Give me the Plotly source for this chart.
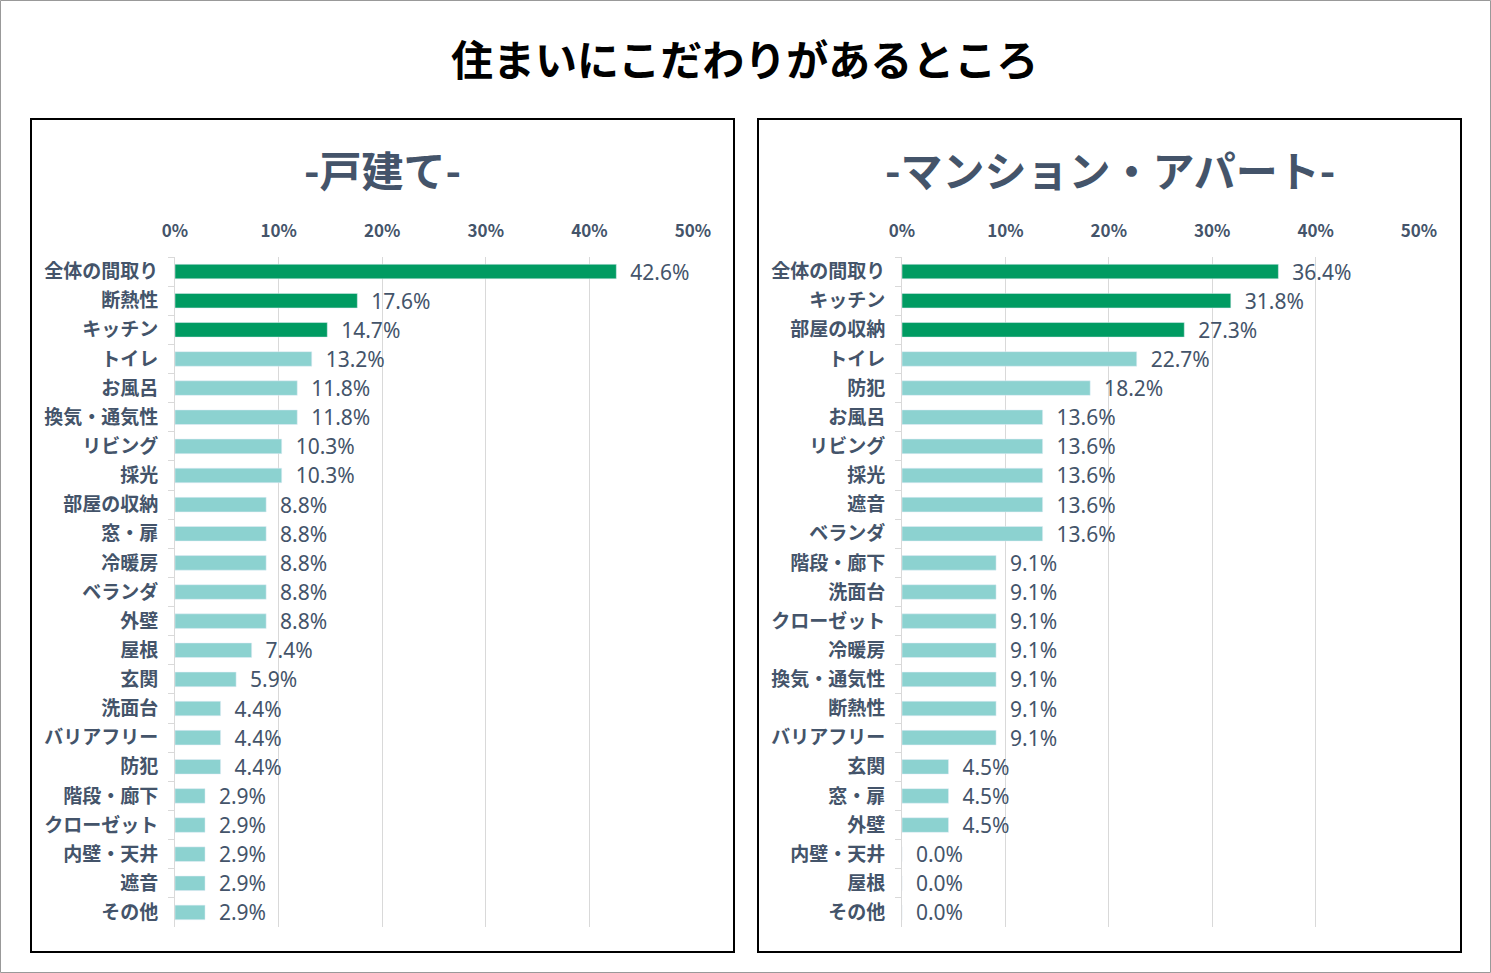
import plotly.graph_objects as go

# 戸建て
house_items = ["全体の間取り", "断熱性", "キッチン", "トイレ", "お風呂", "換気・通気性",
               "リビング", "採光", "部屋の収納", "窓・扉", "冷暖房", "ベランダ", "外壁",
               "屋根", "玄関", "洗面台", "バリアフリー", "防犯", "階段・廊下",
               "クローゼット", "内壁・天井", "遮音", "その他"]
house_values = [42.6, 17.6, 14.7, 13.2, 11.8, 11.8, 10.3, 10.3, 8.8, 8.8, 8.8, 8.8, 8.8,
                7.4, 5.9, 4.4, 4.4, 4.4, 2.9, 2.9, 2.9, 2.9, 2.9]

# マンション・アパート
apt_items = ["全体の間取り", "キッチン", "部屋の収納", "トイレ", "防犯", "お風呂", "リビング",
             "採光", "遮音", "ベランダ", "階段・廊下", "洗面台", "クローゼット", "冷暖房",
             "換気・通気性", "断熱性", "バリアフリー", "玄関", "窓・扉", "外壁",
             "内壁・天井", "屋根", "その他"]
apt_values = [36.4, 31.8, 27.3, 22.7, 18.2, 13.6, 13.6, 13.6, 13.6, 13.6, 9.1, 9.1, 9.1,
              9.1, 9.1, 9.1, 9.1, 4.5, 4.5, 4.5, 0.0, 0.0, 0.0]

tick_vals = [0, 10, 20, 30, 40, 50]
tick_text = ["0%", "10%", "20%", "30%", "40%", "50%"]

W, H = 1491, 973
DARK = "#009B62"
LIGHT = "#8CD2D0"
TXT = "#44546A"
FONT = "Noto Sans CJK JP"


def colors_for(n, top=3):
    return [DARK if i < top else LIGHT for i in range(n)]


fig = go.Figure()

for vals, items, xa, ya in [(house_values, house_items, "x", "y"),
                            (apt_values, apt_items, "x2", "y2")]:
    fig.add_trace(go.Bar(
        x=vals, y=items, orientation="h",
        marker=dict(color=colors_for(len(vals))),
        text=[f"  {v:.1f}%" for v in vals], textposition="outside",
        constraintext="none",
        textfont=dict(size=21, color=TXT, family="Noto Sans, " + FONT),
        cliponaxis=False, xaxis=xa, yaxis=ya, showlegend=False,
    ))

xcommon = dict(range=[0, 50], tickvals=tick_vals, ticktext=tick_text, side="top",
               showgrid=True, gridcolor="#D9D9D9", gridwidth=1, zeroline=False,
               showline=False, ticks="", automargin=False, ticklabelstandoff=16,
               tickfont=dict(size=17, color=TXT, family=FONT, weight="bold"))
ycommon = dict(autorange="reversed", type="category", showgrid=False,
               showline=True, linecolor="#D9D9D9", linewidth=1,
               ticks="outside", tickson="boundaries", ticklen=6, tickcolor="#D9D9D9",
               ticklabelstandoff=12, automargin=False,
               tickfont=dict(size=19, color=TXT, family=FONT, weight="bold"))

y_dom = [1 - 927 / H, 1 - 257 / H]
fig.update_layout(
    width=W, height=H, margin=dict(l=0, r=0, t=0, b=0),
    paper_bgcolor="white", plot_bgcolor="white",
    bargap=0.5,
    xaxis=dict(domain=[175 / W, 693 / W], anchor="y", **xcommon),
    yaxis=dict(domain=y_dom, anchor="x", **ycommon),
    xaxis2=dict(domain=[902 / W, 1419 / W], anchor="y2", **xcommon),
    yaxis2=dict(domain=y_dom, anchor="x2", **ycommon),
)

# outer border and panel boxes
fig.add_shape(type="rect", xref="paper", yref="paper", x0=0.5 / W, x1=1 - 0.5 / W,
              y0=0.5 / H, y1=1 - 0.5 / H, line=dict(color="#999999", width=1))
for x0, x1 in [(31, 734), (758, 1461)]:
    fig.add_shape(type="rect", xref="paper", yref="paper", x0=x0 / W, x1=x1 / W,
                  y0=1 - 952 / H, y1=1 - 119 / H, line=dict(color="black", width=2))

heads = [("<b>住まいにこだわりがあるところ</b>", 744, 57, "black"),
         ("<b>-戸建て-</b>", 383, 168, TXT),
         ("<b>-マンション・アパート-</b>", 1110, 168, TXT)]
for txt, cx, cy, col in heads:
    fig.add_annotation(text=txt, xref="paper", yref="paper",
                       x=cx / W, y=1 - cy / H, xanchor="center", yanchor="middle",
                       showarrow=False, font=dict(size=42, color=col, family=FONT))

fig.write_html("out.html", config={"displayModeBar": False},
               post_script="document.body.style.margin='0';")
